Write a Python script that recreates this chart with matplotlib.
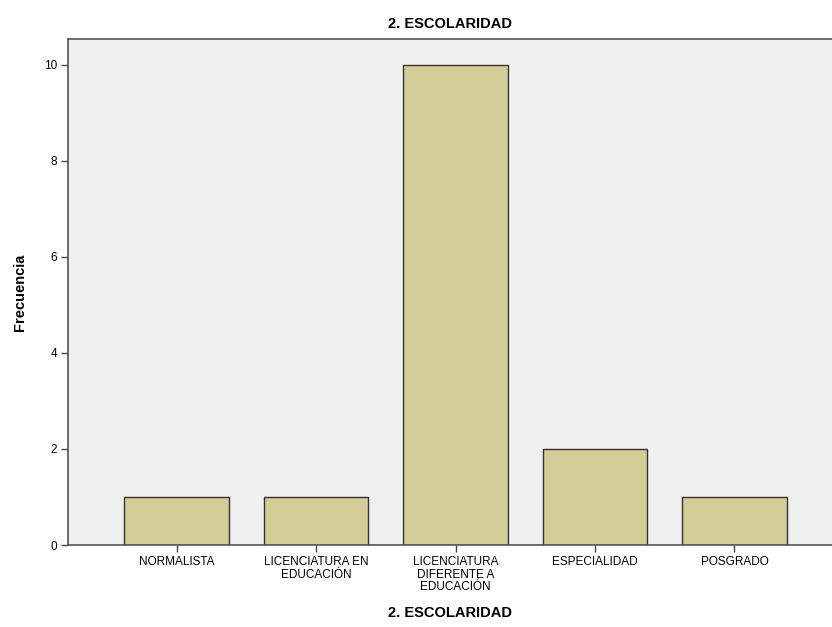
import numpy as np
import matplotlib.pyplot as plt

plt.rcParams['font.family'] = ['Liberation Sans', 'DejaVu Sans']

categorias = ['NORMALISTA', 'LICENCIATURA EN\nEDUCACIÓN', 'LICENCIATURA\nDIFERENTE A\nEDUCACIÓN',
              'ESPECIALIDAD', 'POSGRADO']
frecuencia = [1, 1, 10, 2, 1]

fig = plt.figure(figsize=(8.32, 6.27), dpi=100)
ax = fig.add_axes([68/832, 1-545/627, 1-68/832, (545-39)/627])
ax.set_facecolor('#f0f0f0')

x = np.arange(len(categorias))
ax.bar(x, frecuencia, width=0.75, color='#d3ce97', edgecolor='#333333', linewidth=1)

ax.set_xlim(-0.78, 4.70)
ax.set_ylim(0, 10.54)
ax.set_yticks([0, 2, 4, 6, 8, 10])
ax.set_xticks(x)
ax.set_xticklabels(categorias, fontsize=8.5, linespacing=1.05)
ax.tick_params(axis='both', labelsize=8.5, length=5, width=1, color='#444444', pad=3)

for s in ['left', 'bottom', 'top']:
    ax.spines[s].set_color('#555555')
    ax.spines[s].set_linewidth(1.2)
ax.spines['right'].set_visible(False)

ax.set_title('2. ESCOLARIDAD', fontsize=10.5, fontweight='bold', pad=8)
ax.set_xlabel('2. ESCOLARIDAD', fontsize=10.5, fontweight='bold', labelpad=9)
ax.set_ylabel('Frecuencia', fontsize=10.5, fontweight='bold', labelpad=12)

plt.savefig('out.png', dpi=100)
